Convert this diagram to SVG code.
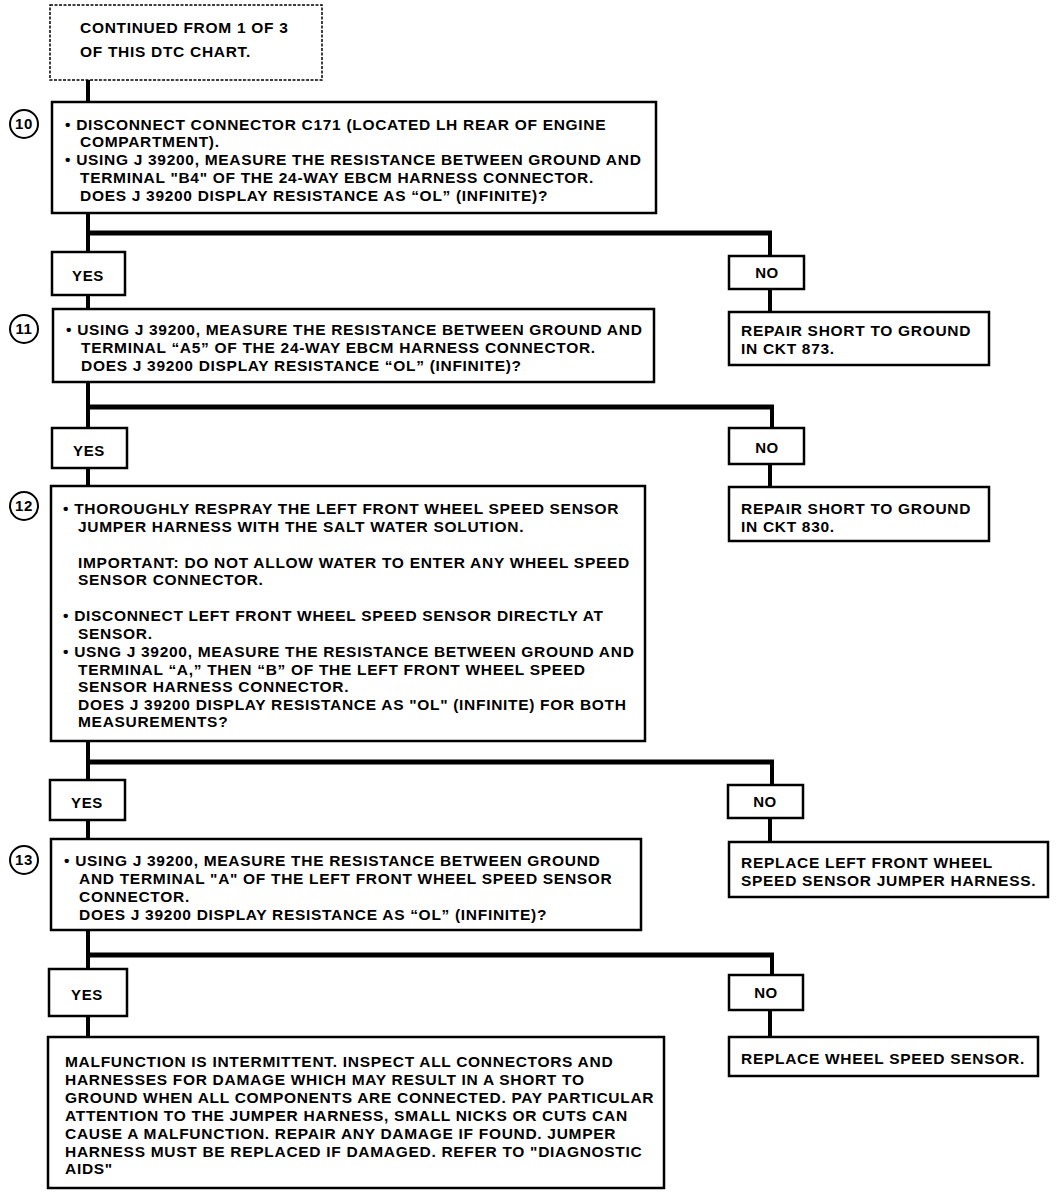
<svg xmlns="http://www.w3.org/2000/svg" width="1056" height="1196" viewBox="0 0 1056 1196">
<style>
.box{fill:#fff;stroke:#000;stroke-width:2.5}
.dash{fill:#fff;stroke:#000;stroke-width:1.5;stroke-dasharray:3 1.5}
.c{fill:#fff;stroke:#000;stroke-width:2}
.t{font-family:"Liberation Sans",Arial,sans-serif;font-weight:bold;font-size:15.5px;letter-spacing:0.7px;fill:#000}
.n{font-family:"Liberation Sans",Arial,sans-serif;font-weight:bold;font-size:15px;letter-spacing:0.6px;fill:#000;text-anchor:middle}
.ln{stroke:#000;stroke-width:4;fill:none}
.hl{stroke:#000;stroke-width:5;fill:none}
</style>
<rect width="1056" height="1196" fill="#fff"/>
<g id="connectors">
<line class="ln" x1="88" y1="80" x2="88" y2="102"/>
<line class="ln" x1="88" y1="213" x2="88" y2="252"/>
<line class="hl" x1="86" y1="233" x2="772" y2="233"/>
<line class="ln" x1="770" y1="231" x2="770" y2="256"/>
<line class="ln" x1="770" y1="289" x2="770" y2="312"/>
<line class="ln" x1="88" y1="295" x2="88" y2="309"/>
<line class="ln" x1="88" y1="382" x2="88" y2="428"/>
<line class="hl" x1="86" y1="407" x2="774" y2="407"/>
<line class="ln" x1="772" y1="405" x2="772" y2="428"/>
<line class="ln" x1="770" y1="464" x2="770" y2="487"/>
<line class="ln" x1="88" y1="468" x2="88" y2="486"/>
<line class="ln" x1="88" y1="741" x2="88" y2="780"/>
<line class="hl" x1="86" y1="762" x2="774" y2="762"/>
<line class="ln" x1="772" y1="760" x2="772" y2="785"/>
<line class="ln" x1="770" y1="818" x2="770" y2="842"/>
<line class="ln" x1="88" y1="820" x2="88" y2="839"/>
<line class="ln" x1="88" y1="930" x2="88" y2="969"/>
<line class="hl" x1="86" y1="955" x2="774" y2="955"/>
<line class="ln" x1="772" y1="953" x2="772" y2="975"/>
<line class="ln" x1="770" y1="1010" x2="770" y2="1037"/>
<line class="ln" x1="88" y1="1016" x2="88" y2="1037"/>
</g>
<g id="start">
<rect class="dash" x="50" y="5" width="272" height="75"/>
<text class="t" x="80" y="33">CONTINUED FROM 1 OF 3</text>
<text class="t" x="80" y="57">OF THIS DTC CHART.</text>
</g>
<g id="step10">
<circle class="c" cx="24" cy="124" r="14"/>
<text class="n" x="24" y="129">10</text>
<rect class="box" x="52" y="102" width="604" height="111"/>
<text class="t" x="65" y="130">• DISCONNECT CONNECTOR C171 (LOCATED LH REAR OF ENGINE</text>
<text class="t" x="80" y="147">COMPARTMENT).</text>
<text class="t" x="65" y="165">• USING J 39200, MEASURE THE RESISTANCE BETWEEN GROUND AND</text>
<text class="t" x="80" y="183">TERMINAL "B4" OF THE 24-WAY EBCM HARNESS CONNECTOR.</text>
<text class="t" x="80" y="201">DOES J 39200 DISPLAY RESISTANCE AS “OL” (INFINITE)?</text>
</g>
<g id="yes1"><rect class="box" x="52" y="252" width="73" height="43"/><text class="n" x="88" y="281">YES</text></g>
<g id="no1"><rect class="box" x="729" y="256" width="75" height="33"/><text class="n" x="767" y="278">NO</text></g>
<g id="repair873">
<rect class="box" x="729" y="312" width="260" height="53"/>
<text class="t" x="741" y="336">REPAIR SHORT TO GROUND</text>
<text class="t" x="741" y="354">IN CKT 873.</text>
</g>
<g id="step11">
<circle class="c" cx="24" cy="329" r="14"/>
<text class="n" x="24" y="334">11</text>
<rect class="box" x="53" y="309" width="601" height="73"/>
<text class="t" x="66" y="335">• USING J 39200, MEASURE THE RESISTANCE BETWEEN GROUND AND</text>
<text class="t" x="81" y="353">TERMINAL “A5” OF THE 24-WAY EBCM HARNESS CONNECTOR.</text>
<text class="t" x="81" y="371">DOES J 39200 DISPLAY RESISTANCE “OL” (INFINITE)?</text>
</g>
<g id="yes2"><rect class="box" x="52" y="428" width="75" height="40"/><text class="n" x="89" y="456">YES</text></g>
<g id="no2"><rect class="box" x="729" y="428" width="75" height="36"/><text class="n" x="767" y="453">NO</text></g>
<g id="repair830">
<rect class="box" x="729" y="487" width="260" height="54"/>
<text class="t" x="741" y="514">REPAIR SHORT TO GROUND</text>
<text class="t" x="741" y="532">IN CKT 830.</text>
</g>
<g id="step12">
<circle class="c" cx="24" cy="506" r="14"/>
<text class="n" x="24" y="511">12</text>
<rect class="box" x="51" y="486" width="594" height="255"/>
<text class="t" x="63" y="514">• THOROUGHLY RESPRAY THE LEFT FRONT WHEEL SPEED SENSOR</text>
<text class="t" x="78" y="532">JUMPER HARNESS WITH THE SALT WATER SOLUTION.</text>
<text class="t" x="78" y="568">IMPORTANT: DO NOT ALLOW WATER TO ENTER ANY WHEEL SPEED</text>
<text class="t" x="78" y="585">SENSOR CONNECTOR.</text>
<text class="t" x="63" y="621">• DISCONNECT LEFT FRONT WHEEL SPEED SENSOR DIRECTLY AT</text>
<text class="t" x="78" y="639">SENSOR.</text>
<text class="t" x="63" y="657">• USNG J 39200, MEASURE THE RESISTANCE BETWEEN GROUND AND</text>
<text class="t" x="78" y="675">TERMINAL “A,” THEN “B” OF THE LEFT FRONT WHEEL SPEED</text>
<text class="t" x="78" y="692">SENSOR HARNESS CONNECTOR.</text>
<text class="t" x="78" y="710">DOES J 39200 DISPLAY RESISTANCE AS "OL" (INFINITE) FOR BOTH</text>
<text class="t" x="78" y="727">MEASUREMENTS?</text>
</g>
<g id="yes3"><rect class="box" x="50" y="780" width="75" height="40"/><text class="n" x="87" y="808">YES</text></g>
<g id="no3"><rect class="box" x="728" y="785" width="75" height="33"/><text class="n" x="765" y="807">NO</text></g>
<g id="replaceJumper">
<rect class="box" x="729" y="842" width="319" height="55"/>
<text class="t" x="741" y="868">REPLACE LEFT FRONT WHEEL</text>
<text class="t" x="741" y="886">SPEED SENSOR JUMPER HARNESS.</text>
</g>
<g id="step13">
<circle class="c" cx="24" cy="860" r="14"/>
<text class="n" x="24" y="865">13</text>
<rect class="box" x="51" y="839" width="590" height="91"/>
<text class="t" x="64" y="866">• USING J 39200, MEASURE THE RESISTANCE BETWEEN GROUND</text>
<text class="t" x="79" y="884">AND TERMINAL "A" OF THE LEFT FRONT WHEEL SPEED SENSOR</text>
<text class="t" x="79" y="902">CONNECTOR.</text>
<text class="t" x="79" y="920">DOES J 39200 DISPLAY RESISTANCE AS “OL” (INFINITE)?</text>
</g>
<g id="yes4"><rect class="box" x="49" y="969" width="78" height="47"/><text class="n" x="87" y="1000">YES</text></g>
<g id="no4"><rect class="box" x="729" y="975" width="74" height="35"/><text class="n" x="766" y="998">NO</text></g>
<g id="replaceSensor">
<rect class="box" x="729" y="1037" width="309" height="39"/>
<text class="t" x="741" y="1064">REPLACE WHEEL SPEED SENSOR.</text>
</g>
<g id="intermittent">
<rect class="box" x="48" y="1037" width="616" height="151"/>
<text class="t" x="65" y="1067">MALFUNCTION IS INTERMITTENT. INSPECT ALL CONNECTORS AND</text>
<text class="t" x="65" y="1085">HARNESSES FOR DAMAGE WHICH MAY RESULT IN A SHORT TO</text>
<text class="t" x="65" y="1103">GROUND WHEN ALL COMPONENTS ARE CONNECTED. PAY PARTICULAR</text>
<text class="t" x="65" y="1121">ATTENTION TO THE JUMPER HARNESS, SMALL NICKS OR CUTS CAN</text>
<text class="t" x="65" y="1139">CAUSE A MALFUNCTION. REPAIR ANY DAMAGE IF FOUND. JUMPER</text>
<text class="t" x="65" y="1157">HARNESS MUST BE REPLACED IF DAMAGED. REFER TO "DIAGNOSTIC</text>
<text class="t" x="65" y="1174">AIDS"</text>
</g>
</svg>
